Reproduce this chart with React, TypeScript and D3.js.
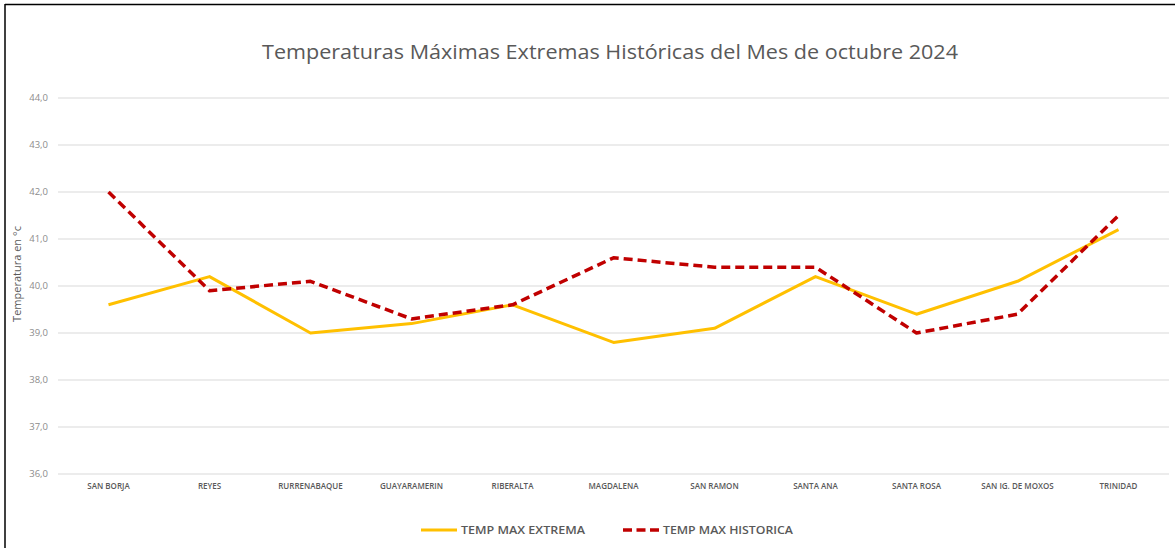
import React from 'react';
import * as d3 from 'd3';

const estaciones = [
  'SAN BORJA', 'REYES', 'RURRENABAQUE', 'GUAYARAMERIN', 'RIBERALTA', 'MAGDALENA',
  'SAN RAMON', 'SANTA ANA', 'SANTA ROSA', 'SAN IG. DE MOXOS', 'TRINIDAD',
];
const tempMaxExtrema = [39.6, 40.2, 39.0, 39.2, 39.6, 38.8, 39.1, 40.2, 39.4, 40.1, 41.2];
const tempMaxHistorica = [42.0, 39.9, 40.1, 39.3, 39.6, 40.6, 40.4, 40.4, 39.0, 39.4, 41.5];
const yTicks = [36, 37, 38, 39, 40, 41, 42, 43, 44];

const W = 1175;
const H = 548;
const margin = { top: 98, right: 6, bottom: 74, left: 58 };
const font = '"Open Sans", "Noto Sans", sans-serif';

const App: React.FC = () => {
  const x = d3.scaleBand<string>()
    .domain(estaciones)
    .range([margin.left, W - margin.right]);
  const y = d3.scaleLinear()
    .domain([36, 44])
    .range([H - margin.bottom, margin.top]);

  const cx = (i: number) => (x(estaciones[i]) ?? 0) + x.bandwidth() / 2;
  const line = d3.line<number>()
    .x((_, i) => cx(i))
    .y(d => y(d));

  const fmt = (v: number) => v.toFixed(1).replace('.', ',');

  return (
    <div style={{ position: 'absolute', left: 0, top: 0 }}>
      <svg width={W} height={H} style={{ display: 'block', background: '#fff' }}>
        {/* frame (cropped on the right and bottom) */}
        <line x1={5} x2={W} y1={4.5} y2={4.5} stroke="#000" strokeWidth={1.5} />
        <line x1={5} x2={5} y1={4} y2={H} stroke="#000" strokeWidth={1.5} />

        <text
          x={610} y={59} textAnchor="middle" fill="#595959"
          fontFamily={font} fontSize={20} textLength={696} lengthAdjust="spacingAndGlyphs"
        >
          Temperaturas Máximas Extremas Históricas del Mes de octubre 2024
        </text>

        {/* gridlines and y labels */}
        {yTicks.map(t => (
          <g key={t}>
            <line
              x1={margin.left} x2={W - margin.right} y1={y(t)} y2={y(t)}
              stroke="#d9d9d9" strokeWidth={1}
            />
            <text
              x={48} y={y(t)} dy="0.35em" textAnchor="end" fill="#8c8c8c"
              fontFamily={font} fontSize={9.5}
            >
              {fmt(t)}
            </text>
          </g>
        ))}

        <text
          transform={`translate(21,${(margin.top + H - margin.bottom) / 2 - 12}) rotate(-90)`}
          textAnchor="middle" fill="#595959" fontFamily={font} fontSize={11}
        >
          Temperatura en °c
        </text>

        {/* x labels */}
        {estaciones.map((e, i) => (
          <text
            key={e} x={cx(i)} y={489} textAnchor="middle" fill="#595959"
            fontFamily={font} fontSize={8} fontWeight={600}
          >
            {e}
          </text>
        ))}

        <path
          d={line(tempMaxExtrema) ?? ''} fill="none" stroke="#FFC000"
          strokeWidth={3} strokeLinejoin="round"
        />
        <path
          d={line(tempMaxHistorica) ?? ''} fill="none" stroke="#C00000"
          strokeWidth={3.5} strokeDasharray="9,5" strokeLinejoin="round"
        />

        {/* legend */}
        <line x1={421} x2={457} y1={530} y2={530} stroke="#FFC000" strokeWidth={3} />
        <text
          x={461} y={530} dy="0.35em" fill="#595959" fontFamily={font}
          fontSize={11} fontWeight={600} textLength={124} lengthAdjust="spacingAndGlyphs"
        >
          TEMP MAX EXTREMA
        </text>
        <line
          x1={623} x2={659} y1={530} y2={530} stroke="#C00000" strokeWidth={3.5}
          strokeDasharray="9,4.5"
        />
        <text
          x={663} y={530} dy="0.35em" fill="#595959" fontFamily={font}
          fontSize={11} fontWeight={600} textLength={130} lengthAdjust="spacingAndGlyphs"
        >
          TEMP MAX HISTORICA
        </text>
      </svg>
    </div>
  );
};

export default App;
